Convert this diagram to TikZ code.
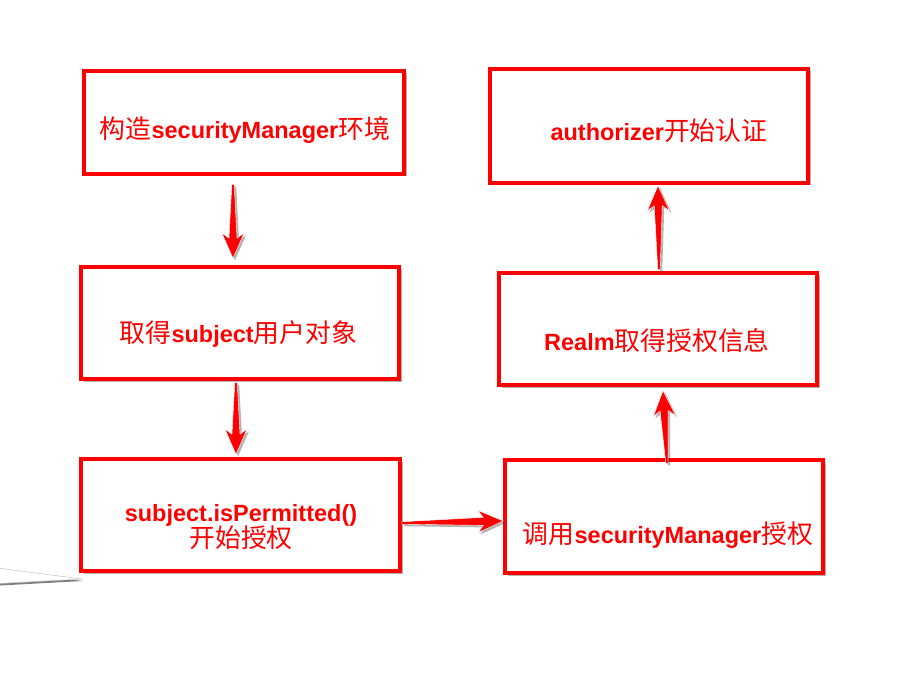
\documentclass[tikz,border=0pt]{standalone}
\usepackage{fontspec}
\setmainfont{Liberation Sans}
\newfontfamily\cjk[Scale=1.1]{Noto Sans CJK SC}
\usetikzlibrary{calc,shadows}

\newcommand{\zh}[1]{{\mdseries\cjk #1}}
\newcommand{\taper}[2]{%
  \path[arr] ($(#1)!1.2pt!90:(#2)$)
    -- ($(#2)!20pt!(#1)!4pt!-90:(#1)$)
    -- ($(#2)!25pt!(#1)!11pt!-90:(#1)$)
    -- (#2)
    -- ($(#2)!25pt!(#1)!11pt!90:(#1)$)
    -- ($(#2)!20pt!(#1)!4pt!90:(#1)$)
    -- ($(#1)!1.2pt!-90:(#2)$) -- cycle;}

\begin{document}
\begin{tikzpicture}[x=1pt,y=-1pt,
  box/.style={draw=red, line width=3.5pt, fill=white, inner sep=0pt,
    drop shadow={shadow xshift=2.5pt, shadow yshift=-2.5pt, opacity=0.3, fill=black}},
  lbl/.style={text=red, font=\fontsize{23.5}{25}\selectfont\bfseries, inner sep=0pt, align=center},
  arr/.style={fill=red, draw=white, line width=0.4pt,
    drop shadow={shadow xshift=2pt, shadow yshift=-2pt, opacity=0.3, fill=black}}]
\useasboundingbox[fill=white] (0,0) rectangle (916,695);
\clip (0,0) rectangle (916,695);

% wedge at left
\path[draw=gray!50, fill=white, line width=0.5pt,
  drop shadow={shadow xshift=1pt, shadow yshift=-2pt, opacity=0.5, fill=black}]
  (-10,567) -- (82,579) -- (-10,584) -- cycle;

% boxes
\node[box, minimum width=320pt, minimum height=103pt] (b1) at (244,122.5) {};
\node[box, minimum width=318pt, minimum height=112pt] (b2) at (240,323) {};
\node[box, minimum width=319pt, minimum height=112pt] (b3) at (240.5,515) {};
\node[box, minimum width=318pt, minimum height=114pt] (b4) at (649,126) {};
\node[box, minimum width=318pt, minimum height=112pt] (b5) at (658,329) {};
\node[box, minimum width=318pt, minimum height=113pt] (b6) at (664,516.5) {};

% labels
\node[lbl] (t1) at (245,130) {\zh{构造}securityManager\zh{环境}};
\node[lbl] (t2) at (238.5,334) {\zh{取得}subject\zh{用户对象}};
\node[lbl] (t3) at (241,527) {subject.isPermitted()\\[-2pt]\zh{开始授权}};
\node[lbl] (t4) at (659,131) {authorizer\zh{开始认证}};
\node[lbl] (t5) at (657,341) {Realm\zh{取得授权信息}};
\node[lbl] (t6) at (668,535) {\zh{调用}securityManager\zh{授权}};

% arrow end points
\coordinate (a1s) at ($(b1.south)+(-11,9)$);
\coordinate (a1e) at ($(b2.north)+(-7,-7)$);
\coordinate (a2s) at ($(b2.south)+(-4,2)$);
\coordinate (a2e) at ($(b3.north)+(-4.5,-3)$);
\coordinate (a3s) at ($(b3.east)+(0,8)$);
\coordinate (a3e) at ($(b6.west)+(0,4.5)$);
\coordinate (a4s) at ($(b6.north)+(3,5)$);
\coordinate (a4e) at ($(b5.south)+(5,4)$);
\coordinate (a5s) at ($(b5.north)+(1,-2)$);
\coordinate (a5e) at ($(b4.south)+(9,1)$);

\taper{a1s}{a1e}
\taper{a2s}{a2e}
\taper{a3s}{a3e}
\taper{a4s}{a4e}
\taper{a5s}{a5e}
\end{tikzpicture}
\end{document}
